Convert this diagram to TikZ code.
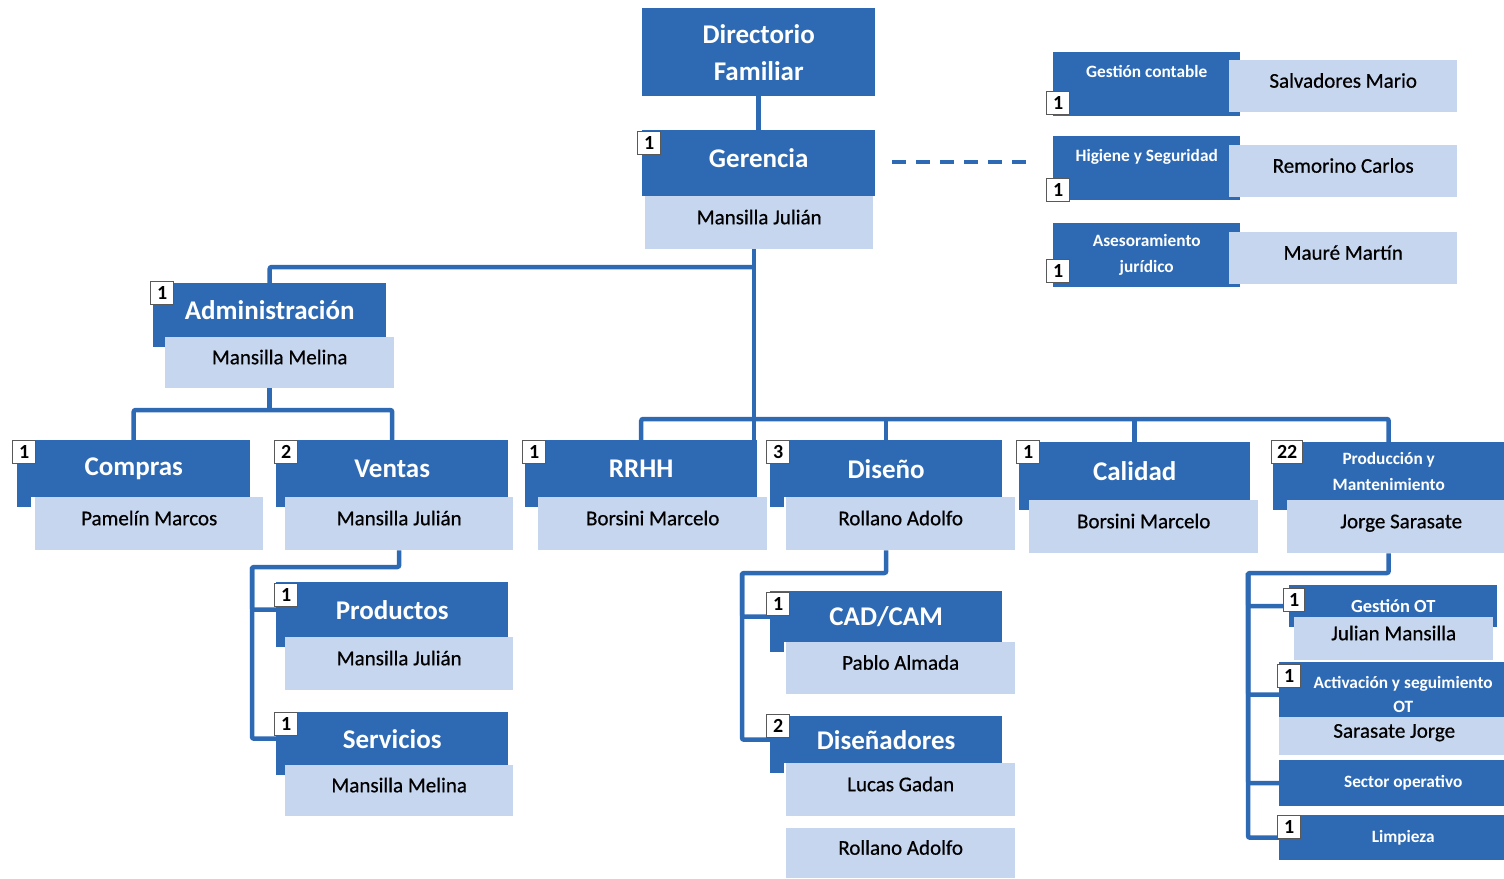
\documentclass[tikz,border=0pt]{standalone}
\usepackage{fontspec}
\setmainfont{Carlito}
\newfontfamily\namefont[FakeBold=0.6]{Carlito}
\usetikzlibrary{backgrounds}

\definecolor{dkblue}{RGB}{46,106,180}
\definecolor{ltblue}{RGB}{198,214,238}
\newcommand{\ftitle}{\fontsize{27}{37}\selectfont\bfseries}
\newcommand{\fname}{\namefont\fontsize{21}{24}\selectfont}
\newcommand{\fsmall}{\fontsize{17.3}{26}\selectfont\bfseries}
\newcommand{\fsmaller}{\fontsize{17.3}{24}\selectfont\bfseries}

\tikzset{
    dk/.style 2 args={fill=dkblue, text=white, font=\ftitle, anchor=north west,
        inner sep=0pt, align=center, minimum width=#1, minimum height=#2},
    lt/.style 2 args={fill=ltblue, text=black, font=\fname, anchor=north west,
        inner sep=0pt, text height=15pt, text depth=12pt, minimum width=#1, minimum height=#2},
    badge/.style={draw=black!65, fill=white, line width=1.3pt, anchor=north west,
        inner sep=0pt, minimum height=23, font=\fontsize{20}{20}\selectfont\bfseries},
    conn/.style={draw=dkblue, line width=4.5pt, rounded corners=2pt},
}

\begin{document}
\begin{tikzpicture}[x=1pt,y=-1pt]
    \useasboundingbox (0,0) rectangle (1504,878);

    \node[dk={233}{88}] (dirf) at (642,8) {Directorio\\Familiar};
    \node[dk={233}{56}] (ger) at (642,130) {Gerencia};
    \node[lt={228}{53}] (gerN) at (645,196) {Mansilla Julián};

    \node[dk={187}{64}, font=\fsmall] (gcont) at (1053,52) {Gestión contable\\~};
    \node[lt={228}{52}] (gcontN) at (1229,60) {Salvadores Mario};
    \node[dk={187}{64}, font=\fsmall] (hig) at (1053,136) {Higiene y Seguridad\\~};
    \node[lt={228}{52}] (higN) at (1229,145) {Remorino Carlos};
    \node[dk={187}{64}, font=\fsmall] (ases) at (1053,223) {Asesoramiento\\jurídico};
    \node[lt={228}{52}] (asesN) at (1229,232) {Mauré Martín};

    \node[dk={233}{54}] (adm) at (153,283) {Administración};
    \node[lt={229}{51}] (admN) at (165,337) {Mansilla Melina};

    \node[dk={233}{57}] (comp) at (17,440) {Compras};
    \node[lt={228}{53}] (compN) at (35,497) {Pamelín Marcos};
    \node[dk={232}{57}] (ven) at (276,440) {Ventas};
    \node[lt={228}{53}] (venN) at (285,497) {Mansilla Julián};
    \node[dk={232}{57}] (rrhh) at (525,440) {RRHH};
    \node[lt={229}{53}] (rrhhN) at (538,497) {Borsini Marcelo};
    \node[dk={232}{57}] (dis) at (770,440) {Diseño};
    \node[lt={229}{53}] (disN) at (786,497) {Rollano Adolfo};
    \node[dk={231}{58}] (cal) at (1019,442) {Calidad};
    \node[lt={229}{53}] (calN) at (1029,500) {Borsini Marcelo};
    \node[dk={231}{58}, font=\fsmall] (prod) at (1273,442) {Producción y\\Mantenimiento};
    \node[lt={228}{53}] (prodN) at (1287,500) {Jorge Sarasate};

    \node[dk={232}{55}] (productos) at (276,582) {Productos};
    \node[lt={228}{53}] (productosN) at (285,637) {Mansilla Julián};
    \node[dk={232}{53}] (servicios) at (276,712) {Servicios};
    \node[lt={228}{51}] (serviciosN) at (285,765) {Mansilla Melina};

    \node[dk={232}{51}] (cadcam) at (770,591) {CAD/CAM};
    \node[lt={229}{52}] (cadcamN) at (786,642) {Pablo Almada};
    \node[dk={232}{47}] (disenadores) at (770,716) {Diseñadores};
    \node[lt={229}{53}] (disenadoresN) at (786,763) {Lucas Gadan};
    \node[lt={229}{50}] (rollano) at (786,828) {Rollano Adolfo};

    \node[dk={208}{42}, font=\fontsize{18.5}{20}\selectfont\bfseries] (gestot) at (1289,585) {Gestión OT};
    \node[lt={199}{43}] (gestotN) at (1294,617) {Julian Mansilla};
    \node[dk={248}{65}, font=\fsmaller] (act) at (1279,662) {Activación y seguimiento\\OT};
    \node[lt={230}{38}] (actN) at (1279,717) {Sarasate Jorge};
    \node[dk={248}{46}, font=\fsmall] (sector) at (1279,760) {Sector operativo};
    \node[dk={248}{45}, font=\fsmall] (limp) at (1279,815) {Limpieza};

    \foreach \n/\x/\y/\k/\w in {ger/637/131/1/23, gcont/1046/91/1/23, hig/1046/178/1/23,
        ases/1046/259/1/23, adm/150/281/1/23, comp/12/440/1/23, ven/274/440/2/23,
        rrhh/522/440/1/23, dis/766/440/3/23, cal/1016/440/1/23, prod/1271/440/22/31,
        productos/274/583/1/23, servicios/274/712/1/23, cadcam/766/592/1/23,
        disenadores/766/714/2/23, gestot/1283/588/1/21, act/1277/664/1/23, limp/1277/815/1/23}
        \node[badge, minimum width=\w] (b\n) at (\x,\y) {\k};

    \begin{scope}[on background layer]
        \coordinate (j1) at (754,267);
        \coordinate (bar) at (0,419);
        \coordinate (abar) at (0,410);
        \coordinate (vbus) at (252,567);
        \coordinate (dbus) at (742,573);
        \coordinate (pbus) at (1248,573);
        \foreach \n in {adm,comp,ven,rrhh,dis,cal,prod,productos,servicios,cadcam,disenadores}
            \fill[dkblue] (\n.south west) rectangle ++(14,10);
        \fill[dkblue] (ger.south west) rectangle (ger.east |- gerN.north);
        \draw[conn] (dirf.south) -- (ger.north);
        \draw[conn, rounded corners=0pt, line width=3.5pt, dash pattern=on 14pt off 10pt]
            ([xshift=17pt]ger.east |- 0,162) -- ([xshift=-23pt]hig.west |- 0,162);
        \draw[conn] (gerN.south -| j1) -- (rrhh.north -| j1);
        \draw[conn] (j1) -| (adm.north);
        \draw[conn] (rrhh.north) |- (bar -| prod.north) -- (prod.north);
        \draw[conn] (dis.north) -- (bar -| dis.north);
        \draw[conn] (cal.north) -- (bar -| cal.north);
        \draw[conn] (admN.south -| adm.north) -- (abar -| adm.north);
        \draw[conn] (comp.north) |- (abar -| ven.north) -- (ven.north);
        \draw[conn] (venN.south) |- (vbus) |- (servicios.west);
        \draw[conn] (vbus) |- (productos.west);
        \draw[conn] (disN.south -| dis.north) |- (dbus) |- (disenadores.west);
        \draw[conn] (dbus) |- (cadcam.west);
        \draw[conn] (prodN.south -| prod.north) |- (pbus) |- (limp.west);
        \draw[conn] (pbus) |- (gestot.west);
        \draw[conn] (pbus) |- (act.west);
        \draw[conn] (pbus) |- (sector.west);
    \end{scope}
\end{tikzpicture}
\end{document}
